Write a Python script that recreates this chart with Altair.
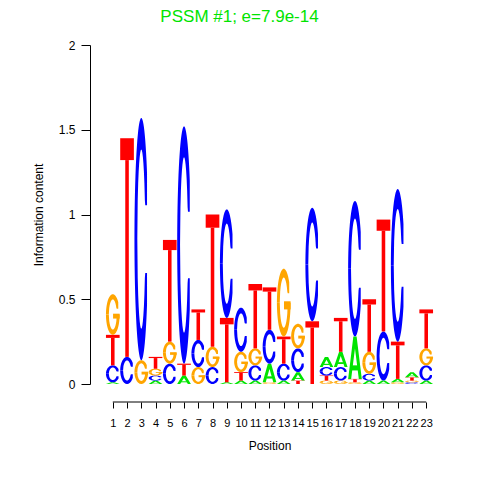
import altair as alt
import pandas as pd
import numpy as np

# ---- data (information content in bits per letter) ----
positions = list(range(1, 24))
A_bits = [0.01, 0.0, 0.0, 0.02, 0.0, 0.05, 0.0, 0.0, 0.01, 0.02, 0.02, 0.11, 0.02, 0.05, 0.0, 0.06, 0.09, 0.25, 0.02, 0.02, 0.02, 0.03, 0.02]
C_bits = [0.10, 0.16, 1.43, 0.03, 0.12, 1.40, 0.16, 0.10, 0.64, 0.26, 0.09, 0.20, 0.10, 0.14, 0.67, 0.05, 0.08, 0.80, 0.04, 0.29, 0.90, 0.01, 0.09]
G_bits = [0.24, 0.0, 0.14, 0.04, 0.13, 0.0, 0.10, 0.12, 0.0, 0.12, 0.10, 0.01, 0.40, 0.145, 0.0, 0.02, 0.02, 0.01, 0.13, 0.0, 0.01, 0.01, 0.10]
T_bits = [0.18, 1.29, 0.0, 0.07, 0.60, 0.07, 0.18, 0.78, 0.38, 0.05, 0.38, 0.25, 0.16, 0.02, 0.37, 0.03, 0.20, 0.02, 0.31, 0.66, 0.22, 0.02, 0.23]
letters = ["A", "C", "G", "T"]
letter_colors = ["#00E400", "#0000FF", "#FFA500", "#FF0000"]
y_ticks = [0, 0.5, 1, 1.5, 2]

# ---- glyph outlines in a unit box (u across, 0..1 up): style only ----
RX_IN, RY_IN, GAP = 0.29, 0.37, 0.14
U = 0.5 - 0.5 * np.cos(np.linspace(0, np.pi, 41))
U = np.unique(np.concatenate([U, [0.5 - RX_IN, 0.5 + RX_IN, 0.92, 0.9]]))


def s(u, r):
    v = 1 - ((u - 0.5) / r) ** 2
    return float(np.sqrt(v)) if v > 0 else 0.0


def ring_top(xe, gap=True):
    pts = []
    for u in U:
        if u > xe:
            continue
        hi = 0.5 + 0.5 * s(u, 0.5)
        lo = 0.5 + RY_IN * s(u, RX_IN)
        if gap and u > 0.5:
            lo = max(lo, 0.5 + GAP)
        pts.append((float(u), min(lo, hi), hi))
    return pts


def ring_bottom(xe, gap=True):
    pts = []
    for u in U:
        if u > xe:
            continue
        lo = 0.5 - 0.5 * s(u, 0.5)
        hi = 0.5 - RY_IN * s(u, RX_IN)
        if gap and u > 0.5:
            hi = min(hi, 0.5 - GAP)
        pts.append((float(u), lo, max(lo, hi)))
    return pts


def a_outer(u):
    return float(np.interp(u, [0, 0.38, 0.62, 1], [0, 1, 1, 0]))


def a_inner(u):
    return float(np.interp(u, [0, 0.22, 0.5, 0.78, 1], [0, 0, 0.72, 0, 0]))


GLYPHS = {
    "C": [ring_top(0.92), ring_bottom(0.92)],
    "G": [ring_top(0.9), ring_bottom(1.0, gap=False),
          [(0.52, 0.40, 0.52), (1.0, 0.40, 0.52)]],
    "A": [[(u, a_inner(u), a_outer(u)) for u in [0, 0.22, 0.38, 0.5, 0.62, 0.78, 1]],
          [(0.28, 0.2, 0.32), (0.72, 0.2, 0.32)]],
    "T": [[(0.0, 0.9, 1.0), (1.0, 0.9, 1.0)],
          [(0.37, 0.0, 0.9), (0.63, 0.0, 0.9)]],
}
W = 0.96

bits = {"A": A_bits, "C": C_bits, "G": G_bits, "T": T_bits}
rows = []
pid = 0
for i, p in enumerate(positions):
    stack = sorted([(bits[l][i], k, l) for k, l in enumerate(letters) if bits[l][i] > 0])
    base = 0.0
    for h, _, l in stack:
        for piece in GLYPHS[l]:
            pid += 1
            for k, (u, lo, hi) in enumerate(piece):
                rows.append({"px": round(p - W / 2 + u * W, 5),
                             "ylo": round(base + lo * h, 5),
                             "yhi": round(base + hi * h, 5),
                             "letter": l, "piece": "p%d" % pid})
        base += h
df = pd.DataFrame(rows)

PLOT_W, PLOT_H = 359, 339
xscale = alt.Scale(domain=[-0.6, 24.6], nice=False, zero=False)
yscale = alt.Scale(domain=[0, 2], nice=False)
x_axis = alt.Axis(values=positions, labelOverlap=False, domain=False,
                  grid=False, tickSize=6, offset=18, labelFontSize=11,
                  labelPadding=9, titleFontSize=12, titlePadding=12,
                  titleFontWeight="normal", tickColor="#000",
                  labelColor="#000", titleColor="#000", labelFlush=False)

logo = alt.Chart(df).mark_area(interpolate="linear", orient="vertical").encode(
    x=alt.X("px:Q", scale=xscale, title="Position", axis=x_axis),
    y=alt.Y("ylo:Q", scale=yscale, stack=None, title="Information content",
            axis=alt.Axis(values=y_ticks, labelExpr="'' + datum.value",
                          grid=False, tickSize=9, labelAngle=0, labelPadding=6,
                          labelFontSize=12, titleFontSize=12, titlePadding=13,
                          titleFontWeight="normal", domainColor="#000",
                          tickColor="#000", labelColor="#000", titleColor="#000")),
    y2="yhi:Q",
    color=alt.Color("letter:N", scale=alt.Scale(domain=letters, range=letter_colors),
                    legend=None),
    detail="piece:N",
)

axis_line = alt.Chart(pd.DataFrame({"a": [positions[0]], "b": [positions[-1]]})).mark_rule(
    color="#000", strokeWidth=1
).encode(x=alt.X("a:Q", scale=xscale, title="Position", axis=x_axis),
         x2="b:Q", y=alt.value(PLOT_H + 18))

chart = alt.layer(logo, axis_line).properties(
    width=PLOT_W, height=PLOT_H,
    autosize=alt.AutoSizeParams(type="none"),
    padding={"left": 82, "top": 37, "right": 23, "bottom": 88},
    title=alt.TitleParams("PSSM #1; e=7.9e-14", color="#00E400", fontSize=17,
                          fontWeight="normal", font="Liberation Sans",
                          anchor="middle", frame="group", dx=-30, offset=13),
).configure_view(stroke=None).configure_axis(
    labelFont="Liberation Sans", titleFont="Liberation Sans"
)

chart.save("out.html", embed_options={"renderer": "svg", "actions": False})
